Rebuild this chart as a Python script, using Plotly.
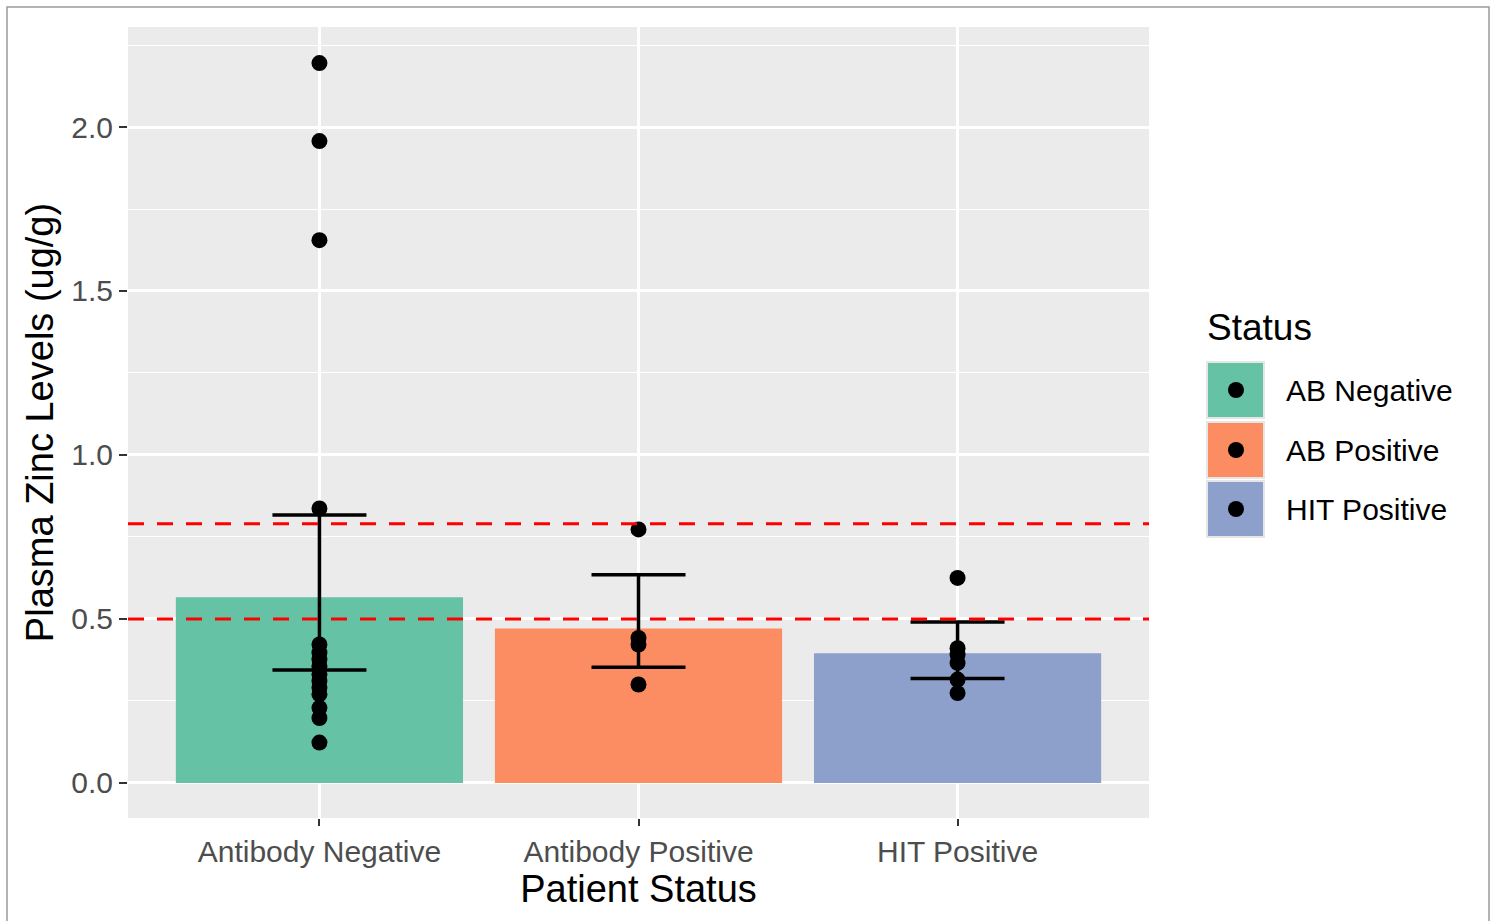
import plotly.graph_objects as go

# ---- data ----
categories = ["Antibody Negative", "Antibody Positive", "HIT Positive"]
legend_labels = ["AB Negative", "AB Positive", "HIT Positive"]
bar_means = [0.566, 0.471, 0.395]
err_upper = [0.817, 0.635, 0.491]
err_lower = [0.344, 0.353, 0.318]
points_ab_neg = [2.195, 1.957, 1.655, 0.837, 0.422, 0.397, 0.376, 0.356, 0.331,
                 0.311, 0.290, 0.270, 0.229, 0.198, 0.123]
points_ab_pos = [0.773, 0.442, 0.422, 0.300]
points_hit = [0.625, 0.411, 0.391, 0.366, 0.315, 0.274]
ref_lines = [0.79, 0.5]
y_ticks = [0.0, 0.5, 1.0, 1.5, 2.0]
y_tick_text = ["0.0", "0.5", "1.0", "1.5", "2.0"]
colors = ["#66C2A5", "#FC8D62", "#8DA0CB"]

W, H = 1497, 921
L, R, T, B = 128, 348, 27, 103
PW, PH = W - L - R, H - T - B

def px(x):
    return (x - L) / PW

def py(y):
    return (H - B - y) / PH

FONT = "Liberation Sans, Arial, sans-serif"

fig = go.Figure()

fig.add_trace(go.Bar(
    x=categories, y=bar_means, width=0.9,
    marker=dict(color=colors, line=dict(width=0)),
    error_y=dict(type="data", symmetric=False,
                 array=[u - m for u, m in zip(err_upper, bar_means)],
                 arrayminus=[m - l for l, m in zip(err_lower, bar_means)],
                 color="black", thickness=3.5, width=47),
    showlegend=False, hoverinfo="skip"))

for cat, pts in zip(categories, [points_ab_neg, points_ab_pos, points_hit]):
    fig.add_trace(go.Scatter(
        x=[cat] * len(pts), y=pts, mode="markers",
        marker=dict(color="black", size=16, line=dict(width=0)),
        showlegend=False, hoverinfo="skip"))

for v in ref_lines:
    fig.add_shape(type="line", xref="paper", yref="y", x0=0, x1=1, y0=v, y1=v,
                  line=dict(color="#FF0000", width=3, dash="16px,13px"), layer="above")

# legend (drawn manually to mimic ggplot keys)
fig.add_annotation(xref="paper", yref="paper", x=px(1205), y=py(327),
                   text="Status", showarrow=False, xanchor="left", yanchor="middle",
                   font=dict(family=FONT, size=37, color="black"))
key_tops = [362, 422, 481]
for i, (lab, col) in enumerate(zip(legend_labels, colors)):
    t = key_tops[i]
    fig.add_shape(type="rect", xref="paper", yref="paper",
                  x0=px(1207), x1=px(1264), y0=py(t), y1=py(t + 56),
                  fillcolor=col, line=dict(color="#E6E6E6", width=2), layer="above")
    cy = t + 28
    fig.add_shape(type="circle", xref="paper", yref="paper",
                  x0=px(1236 - 8), x1=px(1236 + 8), y0=py(cy + 8), y1=py(cy - 8),
                  fillcolor="black", line=dict(width=0), layer="above")
    fig.add_annotation(xref="paper", yref="paper", x=px(1284), y=py(cy),
                       text=lab, showarrow=False, xanchor="left", yanchor="middle",
                       font=dict(family=FONT, size=30, color="black"))

# outer frame
fig.add_shape(type="rect", xref="paper", yref="paper",
              x0=px(7), x1=px(1489), y0=py(7), y1=py(940),
              line=dict(color="#9A9A9A", width=1.5), fillcolor="rgba(0,0,0,0)", layer="above")

fig.update_layout(
    width=W, height=H,
    margin=dict(l=L, r=R, t=T, b=B),
    paper_bgcolor="white", plot_bgcolor="#EBEBEB",
    font=dict(family=FONT),
    showlegend=False, bargap=0.1,
    xaxis=dict(
        type="category", range=[-0.6, 2.6],
        showgrid=True, gridcolor="white", gridwidth=2.5,
        ticks="outside", ticklen=7, tickwidth=2, tickcolor="#333333",
        tickfont=dict(family=FONT, size=30, color="#4D4D4D"),
        title=dict(text="Patient Status", standoff=1,
                   font=dict(family=FONT, size=38, color="black")),
        zeroline=False, showline=False, fixedrange=True),
    yaxis=dict(
        range=[-0.107, 2.305],
        tickvals=y_ticks, ticktext=y_tick_text,
        showgrid=True, gridcolor="white", gridwidth=2.5,
        minor=dict(dtick=0.25, tick0=0, showgrid=True, gridcolor="white", gridwidth=1.2),
        ticks="outside", ticklen=8, tickwidth=2, tickcolor="#333333",
        tickfont=dict(family=FONT, size=30, color="#4D4D4D"),
        title=dict(text="Plasma Zinc Levels (ug/g)", standoff=5,
                   font=dict(family=FONT, size=38, color="black")),
        zeroline=False, showline=False, fixedrange=True),
)

fig.write_html("out.html")
